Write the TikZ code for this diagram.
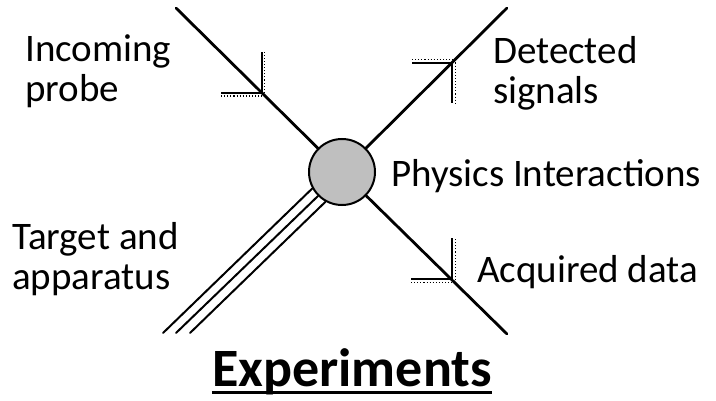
\documentclass[tikz,border=0pt]{standalone}
\usepackage{fontspec}
\setmainfont{Carlito}
\usetikzlibrary{positioning}
\tikzset{
    leg/.style={line width=2.8pt, draw=black, line cap=round},
    rod/.style={line width=2pt, draw=black, line cap=round},
    core/.style={circle, draw=black, fill=black!25, line width=2pt, minimum size=66pt, inner sep=0pt},
    tickmark/.style={line width=1.6pt, draw=black},
    tickshade/.style={line width=1.1pt, draw=black, dotted},
    note/.style={anchor=base west, align=left, inner sep=0pt, font=\fontsize{39}{40}\selectfont},
    heading/.style={anchor=base, inner sep=0pt, font=\fontsize{54}{54}\selectfont\bfseries}
}

\begin{document}
\begin{tikzpicture}[x=1pt, y=-1pt]
        \useasboundingbox (0,0) rectangle (716,401);

        % -----------------------------------------------------------------
        % NUCLEO E LINEE
        % -----------------------------------------------------------------
        \node[core] (hit) at (342,172) {};

        \coordinate (probe) at (176,8);
        \coordinate (signal) at (507,8);
        \coordinate (data) at (507,334);
        \coordinate (rodA) at (163,333);
        \coordinate (rodB) at (176,333);
        \coordinate (rodC) at (190,333);

        \draw[leg] (probe) -- (hit);
        \draw[leg] (hit) -- (signal);
        \draw[leg] (hit) -- (data);

        \draw[rod] (rodA) -- (hit.209);
        \draw[rod] (rodB) -- (hit.225);
        \draw[rod] (rodC) -- (hit.241);

        % -----------------------------------------------------------------
        % TACCHE
        % -----------------------------------------------------------------
        \coordinate (tickP) at (262,93);
        \draw[tickmark] (tickP) ++(-41,0) -- (tickP) -- ++(0,-41);
        \draw[tickshade] (tickP) ++(-41,3) -- ++(43.5,0) -- ++(0,-44);

        \coordinate (tickS) at (452,63);
        \draw[tickmark] (tickS) ++(-40,0) -- (tickS) -- ++(0,40);
        \draw[tickshade] (tickS) ++(-40,-3.5) -- ++(43.5,0) -- ++(0,43.5);

        \coordinate (tickD) at (452,279);
        \draw[tickmark] (tickD) ++(-41,0) -- (tickD) -- ++(0,-41);
        \draw[tickshade] (tickD) ++(-41,3.5) -- ++(44.5,0) -- ++(0,-44.5);

        % -----------------------------------------------------------------
        % TESTI (base = ultima riga)
        % -----------------------------------------------------------------
        \node[note] (probetext) at (25,102) {Incoming\\probe};
        \node[note] (signaltext) at (493,104) {Detected\\signals};
        \node[note] (hittext) at (391,187) {Physics Interactions};
        \node[note] (rodtext) at (12,290) {Target and\\apparatus};
        \node[note] (datatext) at (477,283) {Acquired data};

        \node[heading] (title) at (352,386) {Experiments};
        \draw[line width=3pt] ([yshift=-6]title.base west) -- ([yshift=-6]title.base east);

    \end{tikzpicture}
\end{document}
